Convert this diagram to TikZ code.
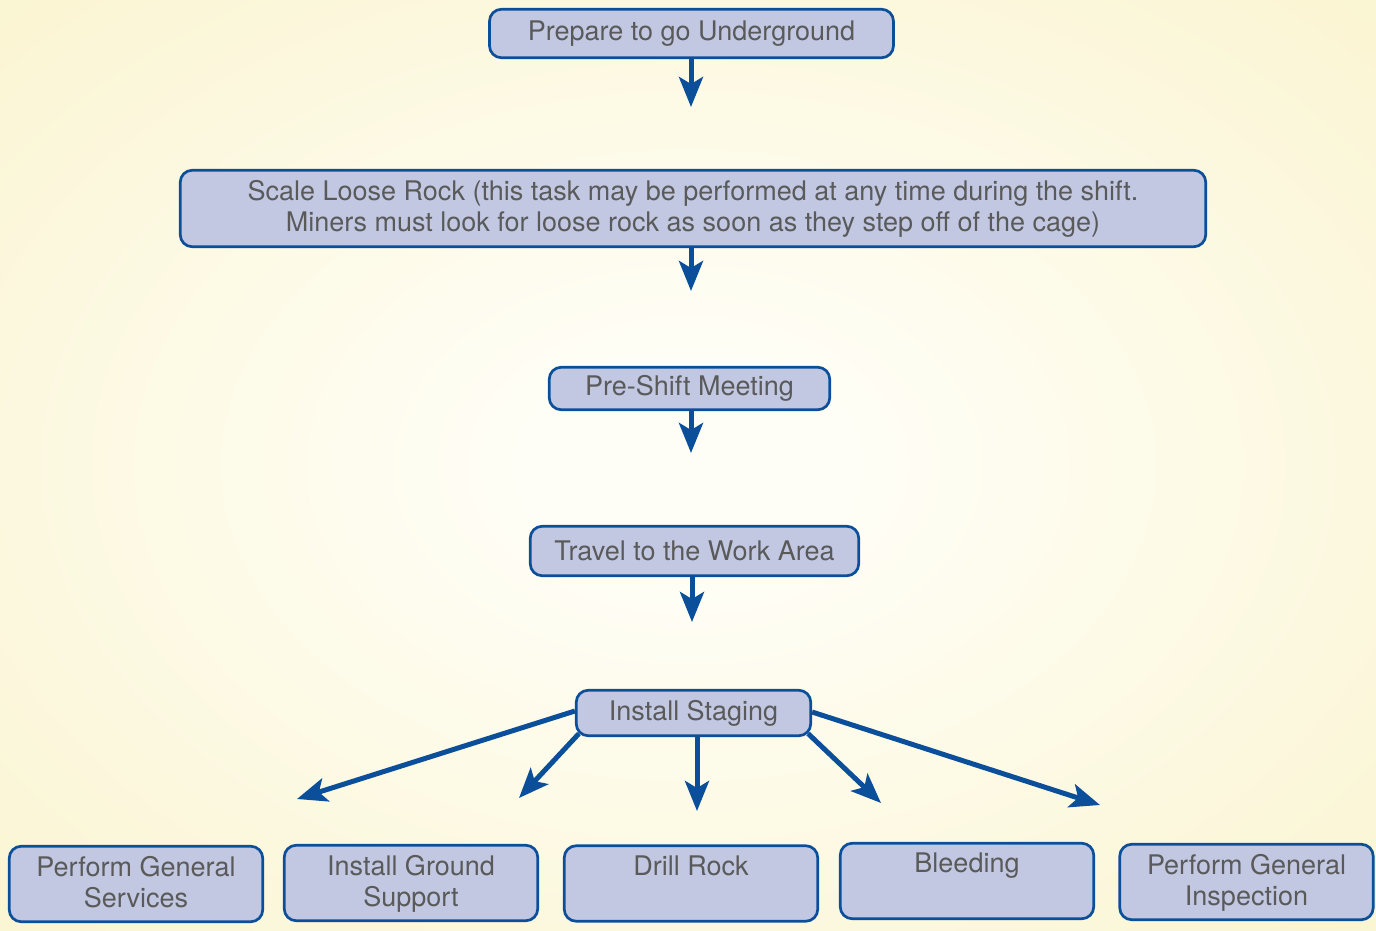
\documentclass[tikz,border=0pt]{standalone}
\usepackage{fontspec}
\setmainfont{TeX Gyre Heros}
\usetikzlibrary{arrows.meta}

\definecolor{boxfill}{HTML}{C2C8E2}
\definecolor{boxline}{HTML}{0B4F9B}
\definecolor{txtgray}{HTML}{5A5A5A}
\definecolor{bgin}{HTML}{FFFEF6}
\definecolor{bgmid}{HTML}{F8F0C0}
\definecolor{bgout}{HTML}{F4E9A3}
\pgfdeclareradialshading{glow}{\pgfpoint{0bp}{0bp}}{color(0bp)=(bgin); color(6bp)=(bgin); color(50bp)=(bgmid); color(71bp)=(bgout)}

\begin{document}
\begin{tikzpicture}[x=1pt,y=-1pt,
        font=\fontsize{27}{31}\selectfont,
        box/.style={draw=boxline, fill=boxfill, line width=2.7pt, rounded corners=12pt,
                    text=txtgray, align=center, inner sep=0pt},
        leaf/.style={box, minimum width=253.5pt, minimum height=75.5pt},
        leaftext/.style={text=txtgray, align=center, inner sep=0pt, anchor=north},
        flow/.style={draw=boxline, line width=5pt, -{Stealth[length=30pt,width=24pt,inset=7pt]}}]
    % fondo
    \useasboundingbox (0,0) rectangle (1376,930);
    \shade[shading=glow] (0,0) rectangle (1376,930);

    % cadena principal
    \node[box, minimum width=404pt, minimum height=48.5pt] (prep) at (691.5,33.5) {Prepare to go Underground};
    \node[box, minimum width=1025.5pt, minimum height=76.5pt] (scale) at (693,208.5)
        {Scale Loose Rock (this task may be performed at any time during the shift.\\
         Miners must look for loose rock as soon as they step off of the cage)};
    \node[box, minimum width=280.5pt, minimum height=42.5pt] (meet) at (689.5,388.5) {Pre-Shift Meeting};
    \node[box, minimum width=328.5pt, minimum height=49.5pt] (travel) at (694.5,551) {Travel to the Work Area};
    \node[box, minimum width=234.5pt, minimum height=45.5pt] (stage) at (693.5,713) {Install Staging};

    % tareas finales
    \node[leaf] (serv)   at (136,884)    {};
    \node[leaf] (ground) at (411,883)    {};
    \node[leaf] (drill)  at (691,883.5)  {};
    \node[leaf] (bleed)  at (967,881)    {};
    \node[leaf] (insp)   at (1246.5,882) {};
    \node[leaftext] (servt)   at ([yshift=-11pt]serv.north)   {Perform General\\Services};
    \node[leaftext] (groundt) at ([yshift=-11pt]ground.north) {Install Ground\\Support};
    \node[leaftext] (drillt)  at ([yshift=-11pt]drill.north)  {Drill Rock};
    \node[leaftext] (bleedt)  at ([yshift=-11pt]bleed.north)  {Bleeding};
    \node[leaftext] (inspt)   at ([yshift=-11pt]insp.north)   {Perform General\\Inspection};

    % flechas
    \coordinate (d1) at (691,107);
    \coordinate (d2) at (691,291);
    \coordinate (d3) at (691,453);
    \coordinate (d4) at (692,622);
    \draw[flow] (prep.south -| d1) -- (d1);
    \draw[flow] (scale.south -| d2) -- (d2);
    \draw[flow] (meet.south -| d3) -- (d3);
    \draw[flow] (travel.south -| d4) -- (d4);

    \coordinate (t1) at (297,799);
    \coordinate (t2) at (519,798);
    \coordinate (t3) at (697,811);
    \coordinate (t4) at (881,803);
    \coordinate (t5) at (1100,805);
    \draw[flow] ([yshift=2pt]stage.west) -- (t1);
    \draw[flow] ([xshift=4pt,yshift=3.5pt]stage.south west) -- (t2);
    \draw[flow] (stage.south -| t3) -- (t3);
    \draw[flow] ([xshift=-4pt,yshift=3.5pt]stage.south east) -- (t4);
    \draw[flow] ([yshift=1pt]stage.east) -- (t5);
\end{tikzpicture}
\end{document}
